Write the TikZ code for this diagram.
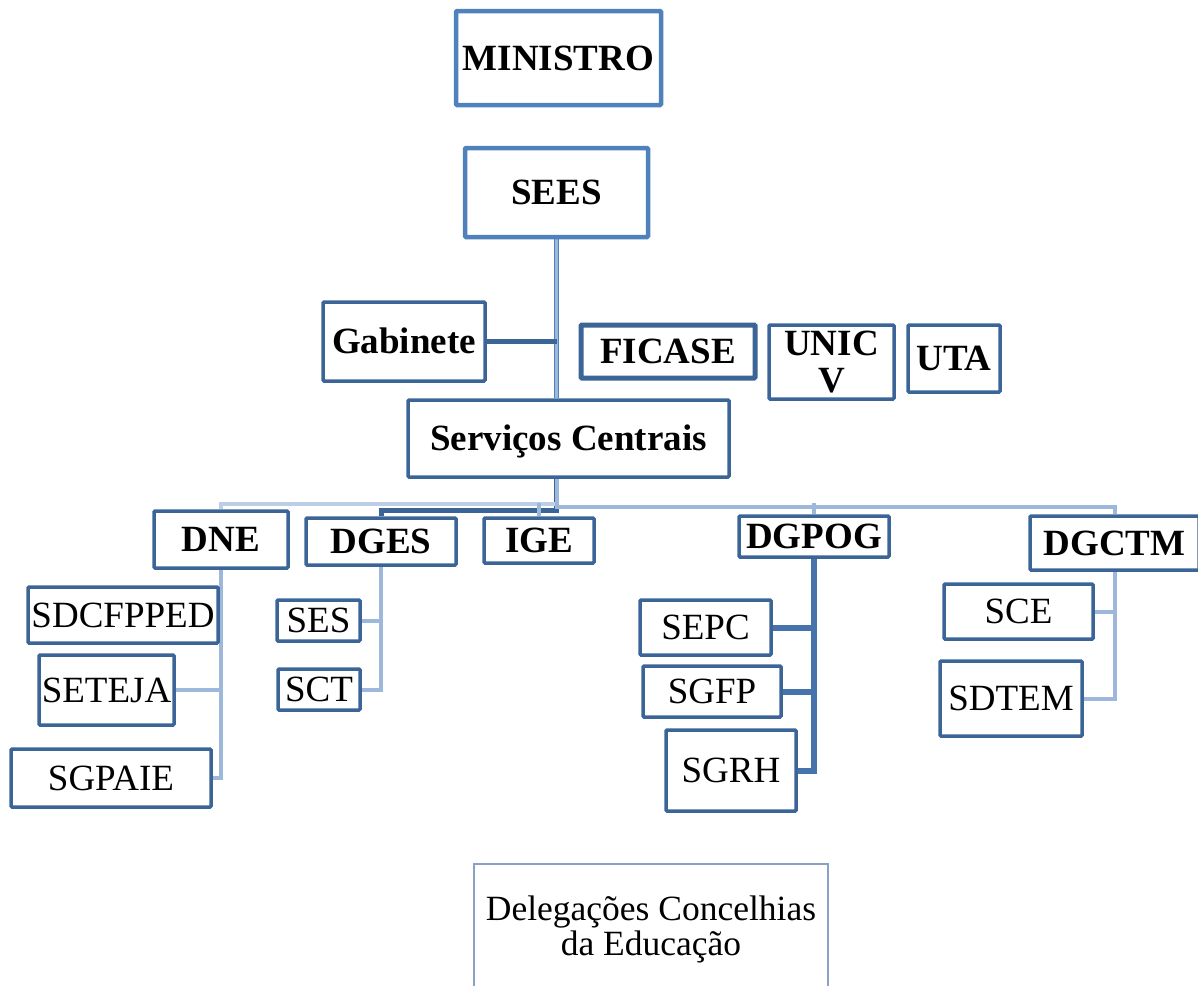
\documentclass[tikz,border=0pt]{standalone}
\usepackage{fontspec}
\setmainfont{Liberation Serif}
\definecolor{boxdark}{HTML}{3C6597}
\definecolor{boxmid}{HTML}{4F81BD}
\definecolor{linelight}{HTML}{9DB8DB}
\definecolor{linepale}{HTML}{BCCFE7}
\definecolor{linedark}{HTML}{4673AB}
\definecolor{delegborder}{HTML}{8AA2C4}
\pgfdeclarelayer{background}
\pgfsetlayers{background,main}
\begin{document}
\begin{tikzpicture}[x=1pt,y=-1pt,
  bfont/.style={font=\fontsize{37}{37}\selectfont\bfseries},
  rfont/.style={font=\fontsize{37}{37}\selectfont},
  basebox/.style={draw=boxdark, line width=3.5pt, fill=white, inner sep=0pt, rounded corners=1pt},
  capbox/.style={basebox, text height=24.5pt, text depth=0pt},
  topbox/.style={capbox, draw=boxmid, line width=4.5pt, bfont},
  headbox/.style={capbox, bfont},
  subbox/.style={capbox, rfont},
  delegbox/.style={draw=delegborder, line width=2pt, fill=white, inner sep=0pt},
  trunk/.style={draw=boxmid, line width=1.3pt, double=linelight, double distance=2.6pt},
  darkconn/.style={draw=boxdark, line width=5pt},
  lightconn/.style={draw=linelight, line width=4pt},
  paleconn/.style={draw=linepale, line width=4pt},
  pogconn/.style={draw=linedark, line width=6pt}]
\useasboundingbox (0,0) rectangle (1198,985);

% top level
\node[topbox, minimum width=205pt, minimum height=94pt] (min) at (558.5,58) {MINISTRO};
\node[topbox, minimum width=183pt, minimum height=89pt] (sees) at (556.5,192.5) {SEES};

% middle level
\node[headbox, minimum width=162pt, minimum height=79pt] (gab) at (404,341.5) {Gabinete};
\node[headbox, line width=5pt, minimum width=174pt, minimum height=53pt] (ficase) at (668,351.5) {FICASE};
\node[basebox, bfont, align=center, minimum width=125pt, minimum height=74pt] (unicv) at (831.5,362) {UNIC\\V};
\node[headbox, minimum width=92pt, minimum height=67pt] (uta) at (954,358.5) {UTA};
\node[headbox, minimum width=321pt, minimum height=77pt] (serv) at (568.5,438.5) {Serviços Centrais};

% directorates
\node[headbox, minimum width=134pt, minimum height=57pt] (dne) at (221,539.5) {DNE};
\node[headbox, minimum width=150pt, minimum height=47pt] (dges) at (381,541.5) {DGES};
\node[headbox, minimum width=110pt, minimum height=45pt] (ige) at (539,540.5) {IGE};
\node[headbox, minimum width=150pt, minimum height=41pt] (dgpog) at (814,536.5) {DGPOG};
\node[headbox, minimum width=169pt, minimum height=54pt] (dgctm) at (1114.5,543) {DGCTM};

% services
\node[subbox, minimum width=190pt, minimum height=56pt] (sdcf) at (123,615) {SDCFPPED};
\node[subbox, minimum width=135pt, minimum height=70pt] (seteja) at (106.5,690) {SETEJA};
\node[subbox, minimum width=200pt, minimum height=58pt] (sgpaie) at (111,778) {SGPAIE};
\node[subbox, minimum width=83pt, minimum height=41pt] (ses) at (318.5,620.5) {SES};
\node[subbox, minimum width=82pt, minimum height=41pt] (sct) at (319,689.5) {SCT};
\node[subbox, minimum width=131pt, minimum height=55pt] (sepc) at (705.5,627.5) {SEPC};
\node[subbox, minimum width=138pt, minimum height=51pt] (sgfp) at (712,691.5) {SGFP};
\node[subbox, minimum width=130pt, minimum height=81pt] (sgrh) at (731,770.5) {SGRH};
\node[subbox, minimum width=149pt, minimum height=55pt] (sce) at (1018.5,611.5) {SCE};
\node[subbox, minimum width=142pt, minimum height=75pt] (sdtem) at (1011,698.5) {SDTEM};

% delegations
\node[delegbox, minimum width=354pt, minimum height=140pt] (deleg) at (651,934) {};
\node[font=\fontsize{35.5}{35}\selectfont, align=center, anchor=north] (delegtext) at ([yshift=-29pt]deleg.north) {Delegações Concelhias\\da Educação};

\begin{pgfonlayer}{background}
  % trunk from SEES to Serviços Centrais
  \draw[trunk] (sees.south) -- (sees.south |- serv.north);
  \draw[darkconn] (gab.east) -- (sees.south |- gab.east);
  % bus below Serviços Centrais
  \draw[darkconn] (sees.south |- serv.south) -- ++(0,32) -| (dges.north);
  \draw[paleconn] (sees.south |- serv.south) -- ++(0,25) -| (dne.north);
  \draw[lightconn] (sees.south |- serv.south) -- ++(0,28) -| (dgctm.north);
  \draw[lightconn] (ige.north) -- ++(0,-13);
  \draw[lightconn] (dgpog.north) -- ++(0,-11);
  % DNE
  \draw[lightconn] (dne.south) -- (dne.south |- sgpaie.east) -- (sgpaie.east);
  \draw[lightconn] (seteja.east) -- (dne.south |- seteja.east);
  \draw[lightconn] (sdcf.east) -- (dne.south |- sdcf.east);
  % DGES
  \draw[lightconn] (dges.south) -- (dges.south |- sct.east) -- (sct.east);
  \draw[lightconn] (ses.east) -- (dges.south |- ses.east);
  % DGPOG
  \draw[pogconn] (dgpog.south) -- (dgpog.south |- sgrh.east) -- (sgrh.east);
  \draw[pogconn] (sepc.east) -- (dgpog.south |- sepc.east);
  \draw[pogconn] (sgfp.east) -- (dgpog.south |- sgfp.east);
  % DGCTM
  \draw[lightconn] (dgctm.south) -- (dgctm.south |- sdtem.east) -- (sdtem.east);
  \draw[lightconn] (sce.east) -- (dgctm.south |- sce.east);
\end{pgfonlayer}
\end{tikzpicture}
\end{document}
